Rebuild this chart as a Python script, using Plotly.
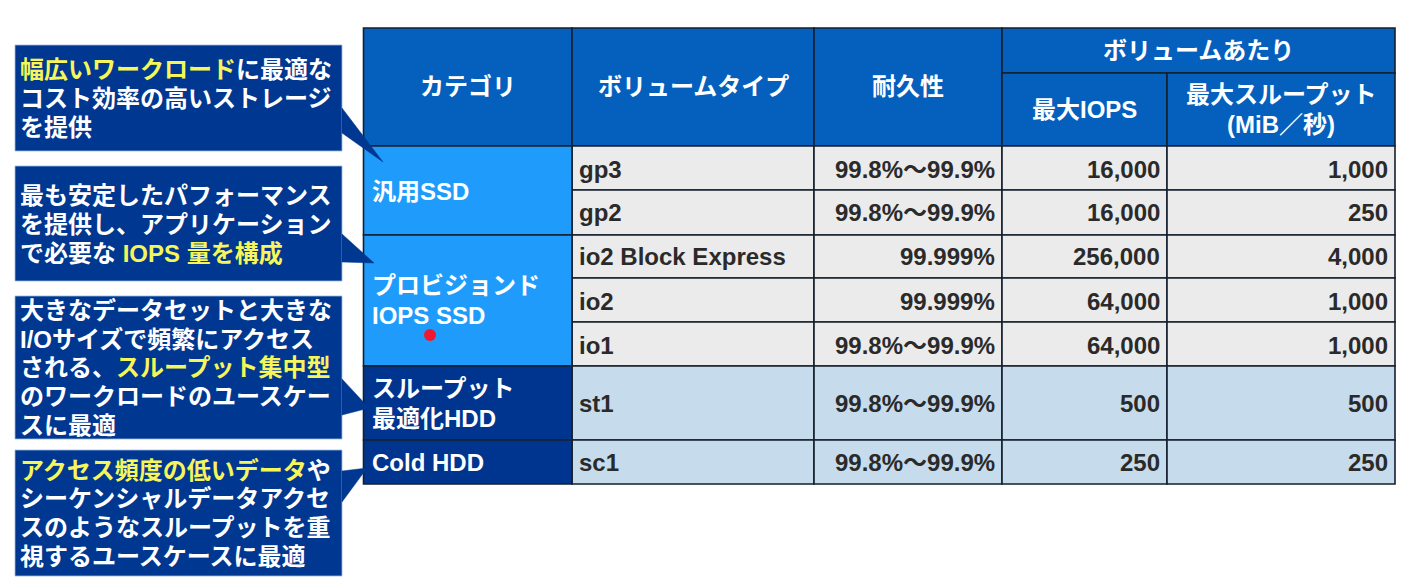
import plotly.graph_objects as go

# ---------- content ----------
col_headers = ["カテゴリ", "ボリュームタイプ", "耐久性"]
group_header = "ボリュームあたり"
sub_headers = ["最大IOPS", ["最大スループット", "(MiB／秒)"]]
categories = [["汎用SSD"], ["プロビジョンド", "IOPS SSD"], ["スループット", "最適化HDD"], ["Cold HDD"]]
category_spans = [2, 3, 1, 1]
volume_types = ["gp3", "gp2", "io2 Block Express", "io2", "io1", "st1", "sc1"]
durability = ["99.8%～99.9%", "99.8%～99.9%", "99.999%", "99.999%", "99.8%～99.9%", "99.8%～99.9%", "99.8%～99.9%"]
max_iops = [16000, 16000, 256000, 64000, 64000, 500, 250]
max_throughput = [1000, 250, 4000, 1000, 1000, 500, 250]

Y = "<span style='color:#f6f65a'>%s</span>"
callout_lines = [
    [Y % "幅広いワークロード" + "に最適な", "コスト効率の高いストレージ", "を提供"],
    ["最も安定したパフォーマンス", "を提供し、アプリケーション", "で必要な " + Y % "IOPS 量を構成"],
    ["大きなデータセットと大きな", "I/Oサイズで頻繁にアクセス", "される、" + Y % "スループット集中型",
     "のワークロードのユースケー", "スに最適"],
    [Y % "アクセス頻度の低いデータ" + "や", "シーケンシャルデータアクセ", "スのようなスループットを重",
     "視するユースケースに最適"],
]

# ---------- layout geometry (pixels) ----------
col_x = [363.5, 572, 814, 1002, 1167, 1395]
top, sub_y, head_bottom = 28, 73, 146
row_y = [146, 190, 235, 278, 322, 366, 440, 484]
callout_boxes = [(45, 151), (166, 281), (296, 439), (450, 576)]
callout_tails = [
    [(342, 108), (383, 162), (342, 133)],
    [(342, 234), (374, 263), (342, 262)],
    [(342, 379), (369, 408), (342, 415)],
    [(342, 471), (367, 468), (342, 502)],
]
callout_line_y = [[69, 98, 127], [195, 224, 253], [310, 339, 367, 396, 425], [470, 498, 527, 556]]
category_text_y = [[191], [285, 315], [388, 418], [462]]
row_text_y = [169, 212, 256, 301, 345, 403, 462]

# ---------- style ----------
HEAD = "#0560bd"
SSD = "#1f9cfb"
HDD = "#00358f"
CALL = "#003791"
ROW_A = "#ebebeb"
ROW_B = "#c6dbeb"
LINE = "#14202e"
FONT = "Liberation Sans, Noto Sans CJK JP, sans-serif"
SIZE = 24

shapes, notes = [], []


def rect(x0, y0, x1, y1, fill, line=LINE, w=1.6):
    shapes.append(dict(type="rect", xref="x", yref="y", x0=x0, y0=y0, x1=x1, y1=y1,
                       fillcolor=fill, line=dict(color=line, width=w)))


def text(x, y, s, anchor="center", color="white", size=SIZE):
    notes.append(dict(x=x, y=y, xref="x", yref="y", text="<b>%s</b>" % s, showarrow=False,
                      xanchor=anchor, yanchor="middle", align=anchor,
                      font=dict(family=FONT, size=size, color=color)))


# header
for i, label in enumerate(col_headers):
    rect(col_x[i], top, col_x[i + 1], head_bottom, HEAD)
    text((col_x[i] + col_x[i + 1]) / 2, 86, label)
rect(col_x[3], top, col_x[5], sub_y, HEAD)
text((col_x[3] + col_x[5]) / 2, 50, group_header)
rect(col_x[3], sub_y, col_x[4], head_bottom, HEAD)
rect(col_x[4], sub_y, col_x[5], head_bottom, HEAD)
text((col_x[3] + col_x[4]) / 2, 109, sub_headers[0])
text((col_x[4] + col_x[5]) / 2, 94, sub_headers[1][0])
text((col_x[4] + col_x[5]) / 2, 124, sub_headers[1][1], size=24)

# body
DARK = "#2a2a2a"
for r, vt in enumerate(volume_types):
    fill = ROW_A if r < 5 else ROW_B
    y0, y1 = row_y[r], row_y[r + 1]
    ym = row_text_y[r]
    for c in range(1, 5):
        rect(col_x[c], y0, col_x[c + 1], y1, fill)
    text(col_x[1] + 5, ym, vt, "left", DARK)
    text(col_x[3] - 5, ym, durability[r], "right", DARK)
    text(col_x[4] - 5, ym, f"{max_iops[r]:,}", "right", DARK)
    text(col_x[5] - 5, ym, f"{max_throughput[r]:,}", "right", DARK)

# categories
start = 0
for k, (lines, span) in enumerate(zip(categories, category_spans)):
    rect(col_x[0], row_y[start], col_x[1], row_y[start + span], SSD if k < 2 else HDD)
    for s, y in zip(lines, category_text_y[k]):
        text(col_x[0] + 6, y, s, "left")
    start += span

# red pointer dot
shapes.append(dict(type="circle", xref="x", yref="y", x0=424, x1=436, y0=329, y1=341,
                   fillcolor="#f0182e", line=dict(width=0)))

# callouts
for (y0, y1), tail, lines, ys in zip(callout_boxes, callout_tails, callout_lines, callout_line_y):
    rect(15, y0, 342, y1, CALL, "#9db7e0", 0.8)
    path = "M %d %d L %d %d L %d %d Z" % (tail[0] + tail[1] + tail[2])
    shapes.append(dict(type="path", xref="x", yref="y", path=path, fillcolor=CALL,
                       line=dict(color=CALL, width=0.5)))
    for s, y in zip(lines, ys):
        text(18, y, s, "left")

fig = go.Figure()
fig.update_layout(
    width=1410, height=588, margin=dict(l=0, r=0, t=0, b=0),
    paper_bgcolor="white", plot_bgcolor="white", showlegend=False,
    xaxis=dict(range=[0, 1410], visible=False, fixedrange=True),
    yaxis=dict(range=[588, 0], visible=False, fixedrange=True),
    shapes=shapes, annotations=notes,
)
fig.write_html("out.html", post_script="document.body.style.margin='0';",
               config={"displayModeBar": False})
